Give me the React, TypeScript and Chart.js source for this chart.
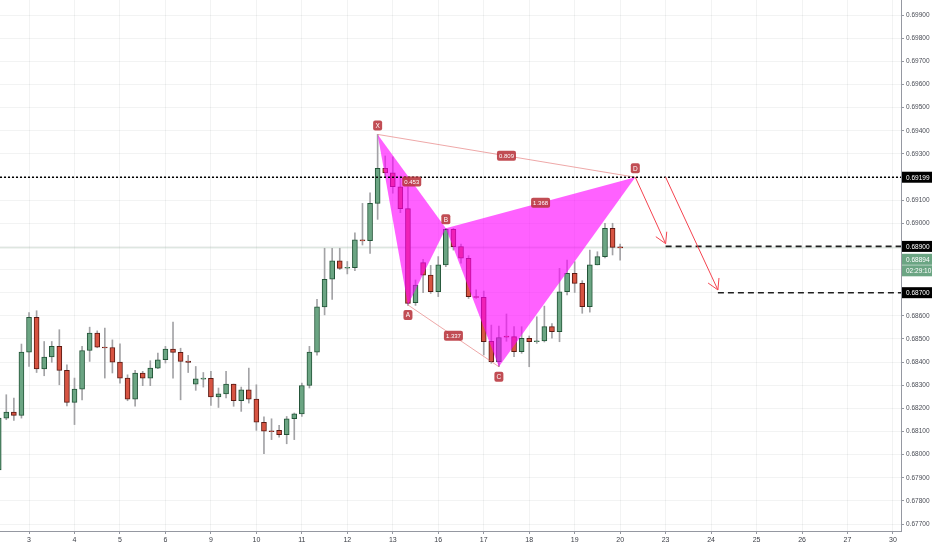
import React, { useEffect, useRef } from "react";
import { Chart, registerables } from "chart.js";

Chart.register(...registerables);

// ---------- data ----------
const dayLabels = ["3", "4", "5", "6", "9", "10", "11", "12", "13", "16", "17", "18", "19", "20", "23", "24", "25", "26", "27", "30"];
const candlesPerDay = 6;
const firstCandleIndex = -4;
const xMin = -3.83;
const xMax = 115.06;
const yMin = 0.6767;
const yMax = 0.69965;
const yTickValues = [0.677, 0.678, 0.679, 0.68, 0.681, 0.682, 0.683, 0.684, 0.685, 0.686, 0.687, 0.688, 0.689, 0.69, 0.691, 0.692, 0.693, 0.694, 0.695, 0.696, 0.697, 0.698, 0.699];

const opens = [
  0.67934, 0.68158, 0.68184, 0.6817, 0.68443, 0.68594, 0.68371, 0.68422, 0.68468, 0.68364,
  0.68226, 0.68283, 0.6845, 0.68525, 0.68465, 0.68463, 0.684, 0.68331, 0.6824, 0.68353,
  0.68331, 0.68374, 0.6841, 0.68456, 0.68442, 0.68404, 0.68305, 0.68326, 0.6833, 0.68249,
  0.68263, 0.68305, 0.68233, 0.6828, 0.6824, 0.6814, 0.68103, 0.68105, 0.68086, 0.68155,
  0.68176, 0.68299, 0.68443, 0.68639, 0.68758, 0.68838, 0.68806, 0.68808, 0.68928, 0.68925,
  0.69086, 0.69237, 0.69218, 0.69158, 0.69063, 0.68657, 0.6883, 0.68776, 0.68704, 0.6882,
  0.68974, 0.68899, 0.68849, 0.68683, 0.6868, 0.6849, 0.68402, 0.68512, 0.6851, 0.68445,
  0.68503, 0.68488, 0.68492, 0.68553, 0.68531, 0.68704, 0.68784, 0.6874, 0.6864, 0.6882,
  0.68856, 0.68978, 0.68898,
];
const highs = [
  0.68165, 0.68259, 0.68245, 0.68478, 0.68614, 0.68622, 0.68489, 0.68489, 0.6854, 0.68388,
  0.68331, 0.68468, 0.68551, 0.68535, 0.68547, 0.68496, 0.68479, 0.68345, 0.68364, 0.6836,
  0.68406, 0.68439, 0.68468, 0.68573, 0.6846, 0.68429, 0.68381, 0.68355, 0.6836, 0.68288,
  0.6836, 0.68305, 0.68292, 0.68374, 0.68302, 0.68163, 0.68155, 0.68127, 0.68165, 0.6818,
  0.68309, 0.68468, 0.68671, 0.68892, 0.68892, 0.68892, 0.68835, 0.68959, 0.69086, 0.69132,
  0.69384, 0.69291, 0.69287, 0.69204, 0.69158, 0.68755, 0.68844, 0.68818, 0.68856, 0.68978,
  0.68978, 0.6891, 0.6886, 0.68712, 0.68707, 0.6856, 0.68556, 0.68608, 0.68553, 0.68553,
  0.68513, 0.68596, 0.68642, 0.68567, 0.68805, 0.68841, 0.68834, 0.68752, 0.68884, 0.68877,
  0.69, 0.69, 0.6891,
];
const lows = [
  0.67925, 0.68151, 0.68148, 0.68158, 0.68381, 0.68355, 0.68341, 0.68399, 0.68302, 0.68211,
  0.6813, 0.68237, 0.68403, 0.68462, 0.68331, 0.68353, 0.68309, 0.68233, 0.68209, 0.68298,
  0.68298, 0.68372, 0.68396, 0.68331, 0.68237, 0.68355, 0.68278, 0.68292, 0.68213, 0.68204,
  0.68245, 0.68209, 0.68187, 0.68223, 0.68105, 0.68004, 0.68065, 0.68076, 0.68047, 0.68065,
  0.68165, 0.68288, 0.6843, 0.68604, 0.68671, 0.688, 0.68781, 0.68795, 0.68906, 0.6887,
  0.69017, 0.69199, 0.6913, 0.69046, 0.68645, 0.68645, 0.687, 0.68697, 0.68683, 0.68812,
  0.68884, 0.68828, 0.68675, 0.68675, 0.68431, 0.68395, 0.6838, 0.6849, 0.68423, 0.68438,
  0.6838, 0.68481, 0.68487, 0.68503, 0.68488, 0.6869, 0.68701, 0.68611, 0.68616, 0.6882,
  0.6885, 0.68863, 0.68841,
];
const closes = [
  0.68158, 0.68184, 0.6817, 0.68443, 0.68594, 0.68371, 0.68422, 0.68468, 0.68364, 0.68226,
  0.68283, 0.6845, 0.68525, 0.68465, 0.68461, 0.684, 0.68331, 0.6824, 0.68353, 0.68331,
  0.68374, 0.6841, 0.68456, 0.68442, 0.68403, 0.68399, 0.68328, 0.68331, 0.68249, 0.68263,
  0.68305, 0.68233, 0.6828, 0.6824, 0.6814, 0.68101, 0.68099, 0.68086, 0.68155, 0.68176,
  0.68299, 0.68443, 0.68639, 0.68758, 0.68838, 0.68805, 0.6881, 0.68928, 0.68924, 0.69086,
  0.69237, 0.69218, 0.69158, 0.69063, 0.68654, 0.68733, 0.68776, 0.68704, 0.6882, 0.68974,
  0.68899, 0.68849, 0.68683, 0.6868, 0.68488, 0.68402, 0.68506, 0.68508, 0.68445, 0.68503,
  0.68488, 0.68492, 0.68553, 0.68531, 0.68704, 0.68784, 0.6874, 0.6864, 0.6882, 0.68856,
  0.68978, 0.68896, 0.68894,
];

const pivotNames = ["X", "A", "B", "C", "D"];
const pivotIndex = [46, 50, 55, 62, 80];
const pivotPrice = [0.69384, 0.68647, 0.68978, 0.6838, 0.69199];
const pivotLabelBelow = [false, true, false, true, false];
const ratioLabels = ["0.453", "1.368", "0.809", "1.337"];
const ratioFrom = [0, 2, 0, 1];
const ratioTo = [2, 4, 4, 3];

const entryPrice = 0.69199;
const targetPrices = [0.689, 0.687];
const targetStartIndex = [84, 90.9];
const arrowFromIndex = [80, 84];
const arrowFromPrice = [0.69199, 0.69199];
const arrowToIndex = [84, 90.9];
const arrowToPrice = [0.68912, 0.68712];

const currentPrice = 0.68894;
const countdownText = "02:29:10";
const axisTagPrices = [0.69199, 0.689, 0.687];

// ---------- styles ----------
const FONT = '"Liberation Sans", Arial, sans-serif';
const upFill = "#6ba583";
const upBorder = "#225437";
const downFill = "#d75442";
const downBorder = "#5b1a13";
const patternFill = "rgba(255, 0, 255, 0.62)";
const patternLine = "rgba(226, 110, 110, 0.6)";
const tagRed = "rgba(184, 52, 60, 0.88)";
const arrowRed = "#f4434f";

function rr(ctx: CanvasRenderingContext2D, x: number, y: number, w: number, h: number, r: number) {
  ctx.beginPath();
  ctx.moveTo(x + r, y);
  ctx.lineTo(x + w - r, y);
  ctx.quadraticCurveTo(x + w, y, x + w, y + r);
  ctx.lineTo(x + w, y + h - r);
  ctx.quadraticCurveTo(x + w, y + h, x + w - r, y + h);
  ctx.lineTo(x + r, y + h);
  ctx.quadraticCurveTo(x, y + h, x, y + h - r);
  ctx.lineTo(x, y + r);
  ctx.quadraticCurveTo(x, y, x + r, y);
  ctx.closePath();
}

function drawTag(ctx: CanvasRenderingContext2D, text: string, cx: number, cy: number, size: number) {
  ctx.font = `${size}px ${FONT}`;
  const w = Math.max(ctx.measureText(text).width + 4, 9);
  const h = 10;
  ctx.fillStyle = tagRed;
  rr(ctx, cx - w / 2, cy - h / 2, w, h, 2);
  ctx.fill();
  ctx.fillStyle = "#ffffff";
  ctx.textAlign = "center";
  ctx.textBaseline = "middle";
  ctx.fillText(text, cx, cy + 0.5);
}

const overlayPlugin = {
  id: "overlay",
  afterDatasetsDraw(chart: any) {
    const ctx: CanvasRenderingContext2D = chart.ctx;
    const xs = chart.scales.x;
    const ys = chart.scales.y;
    ctx.save();
    // arrow heads
    chart.data.datasets.forEach((ds: any, i: number) => {
      if (!ds._arrow) return;
      const pts = chart.getDatasetMeta(i).data;
      const a = pts[0];
      const b = pts[1];
      const ang = Math.atan2(b.y - a.y, b.x - a.x);
      const len = 12;
      ctx.strokeStyle = arrowRed;
      ctx.lineWidth = 1;
      ctx.beginPath();
      [Math.PI / 6, -Math.PI / 6].forEach((d) => {
        ctx.moveTo(b.x, b.y);
        ctx.lineTo(b.x - len * Math.cos(ang + d), b.y - len * Math.sin(ang + d));
      });
      ctx.stroke();
    });
    // ratio labels
    ratioLabels.forEach((t, k) => {
      const p = ratioFrom[k];
      const q = ratioTo[k];
      const x1 = xs.getPixelForValue(pivotIndex[p]);
      const y1 = ys.getPixelForValue(pivotPrice[p]);
      const x2 = xs.getPixelForValue(pivotIndex[q]);
      const y2 = ys.getPixelForValue(pivotPrice[q]);
      drawTag(ctx, t, (x1 + x2) / 2, (y1 + y2) / 2, 6);
    });
    // pivot labels
    pivotNames.forEach((n, k) => {
      const x = xs.getPixelForValue(pivotIndex[k]);
      const y = ys.getPixelForValue(pivotPrice[k]);
      drawTag(ctx, n, x, y + (pivotLabelBelow[k] ? 10 : -9), 6.5);
    });
    ctx.restore();
  },
  afterDraw(chart: any) {
    const ctx: CanvasRenderingContext2D = chart.ctx;
    const ys = chart.scales.y;
    const left = chart.chartArea.right + 1;
    const w = chart.width - left;
    ctx.save();
    ctx.font = `6.5px ${FONT}`;
    ctx.textBaseline = "middle";
    ctx.textAlign = "left";
    const box = (text: string, cy: number, bg: string) => {
      ctx.fillStyle = bg;
      ctx.fillRect(left, cy - 5.5, w, 11);
      ctx.fillStyle = "#ffffff";
      ctx.fillText(text, left + 4, cy + 0.5);
    };
    axisTagPrices.forEach((p) => box(p.toFixed(5), ys.getPixelForValue(p), "#000000"));
    const cy = ys.getPixelForValue(currentPrice);
    box(currentPrice.toFixed(5), cy + 11.5, upFill);
    box(countdownText, cy + 23, upFill);
    ctx.restore();
  },
};

export default function App() {
  const ref = useRef<HTMLCanvasElement>(null);
  useEffect(() => {
    const idx = opens.map((_, k) => firstCandleIndex + k);
    const isUp = opens.map((o, k) => closes[k] >= o);
    const line = (pts: { x: number; y: number }[], extra: any) => ({
      type: "line",
      data: pts,
      pointRadius: 0,
      borderWidth: 1,
      tension: 0,
      fill: false,
      ...extra,
    });
    const P = (k: number) => ({ x: pivotIndex[k], y: pivotPrice[k] });

    const datasets: any[] = [
      line([{ x: xMin, y: currentPrice }, { x: xMax, y: currentPrice }], {
        borderColor: "rgba(150, 178, 160, 0.45)",
        order: 20,
      }),
      {
        type: "bar",
        data: idx.map((x, k) => ({ x, y: [lows[k], highs[k]] })),
        backgroundColor: "#a3a3a6",
        barThickness: 1,
        grouped: false,
        borderWidth: 0,
        order: 15,
      },
      {
        type: "bar",
        data: idx.map((x, k) => ({ x, y: [opens[k], closes[k]] })),
        backgroundColor: isUp.map((u) => (u ? upFill : downFill)),
        borderColor: isUp.map((u) => (u ? upBorder : downBorder)),
        borderWidth: 1,
        borderSkipped: false,
        barThickness: 5,
        grouped: false,
        order: 14,
      },
      line([P(0), P(1), P(2)], { borderWidth: 0, fill: "+1", backgroundColor: patternFill, order: 10 }),
      line([P(0), P(2)], { borderWidth: 0, borderColor: "rgba(0,0,0,0)", order: 10 }),
      line([P(2), P(3), P(4)], { borderWidth: 0, fill: "+1", backgroundColor: patternFill, order: 10 }),
      line([P(2), P(4)], { borderWidth: 0, borderColor: "rgba(0,0,0,0)", order: 10 }),
      line([P(0), P(4)], { borderColor: patternLine, order: 9 }),
      line([P(1), P(3)], { borderColor: patternLine, order: 9 }),
      line([{ x: xMin, y: entryPrice }, { x: xMax, y: entryPrice }], {
        borderColor: "#000000",
        borderWidth: 1.6,
        borderDash: [2, 2],
        order: 5,
      }),
      ...targetPrices.map((p, k) =>
        line([{ x: targetStartIndex[k], y: p }, { x: xMax, y: p }], {
          borderColor: "#1f1f1f",
          borderWidth: 1.6,
          borderDash: [6, 4],
          order: 5,
        })
      ),
      ...arrowFromIndex.map((x, k) =>
        line([{ x, y: arrowFromPrice[k] }, { x: arrowToIndex[k], y: arrowToPrice[k] }], {
          borderColor: arrowRed,
          order: 4,
          _arrow: true,
        })
      ),
    ];

    const chart = new Chart(ref.current as HTMLCanvasElement, {
      type: "bar",
      data: { datasets },
      plugins: [overlayPlugin],
      options: {
        animation: false,
        responsive: false,
        devicePixelRatio: 1,
        events: [],
        layout: { padding: 0 },
        plugins: { legend: { display: false }, tooltip: { enabled: false } },
        scales: {
          x: {
            type: "linear",
            min: xMin,
            max: xMax,
            offset: false,
            grid: { offset: false, color: "rgba(42, 46, 57, 0.06)", tickColor: "#9598a1", tickLength: 3 },
            border: { color: "#9598a1", width: 1 },
            ticks: {
              autoSkip: false,
              maxRotation: 0,
              padding: 2,
              color: "#3a3d45",
              font: { family: FONT, size: 7 },
              callback: (_v: any, i: number) => dayLabels[i],
            },
            afterBuildTicks: (s: any) => {
              s.ticks = dayLabels.map((_, k) => ({ value: k * candlesPerDay }));
            },
            afterFit: (s: any) => {
              s.height = 19;
              s.paddingLeft = 0;
              s.paddingRight = 0;
            },
          },
          y: {
            type: "linear",
            position: "right",
            min: yMin,
            max: yMax,
            grid: { color: "rgba(42, 46, 57, 0.06)", tickColor: "#9598a1", tickLength: 3 },
            border: { color: "#9598a1", width: 1 },
            ticks: {
              autoSkip: false,
              padding: 2,
              color: "#4a4d56",
              font: { family: FONT, size: 6.5 },
              callback: (v: any) => Number(v).toFixed(5),
            },
            afterBuildTicks: (s: any) => {
              s.ticks = yTickValues.map((value) => ({ value }));
            },
            afterFit: (s: any) => {
              s.width = 31;
              s.paddingTop = 0;
              s.paddingBottom = 0;
            },
          },
        },
      } as any,
    } as any);
    return () => chart.destroy();
  }, []);

  return (
    <div style={{ position: "absolute", left: 0, top: 0, width: 932, height: 550, background: "#ffffff" }}>
      <canvas ref={ref} width={932} height={550} style={{ width: 932, height: 550, display: "block" }} />
    </div>
  );
}
